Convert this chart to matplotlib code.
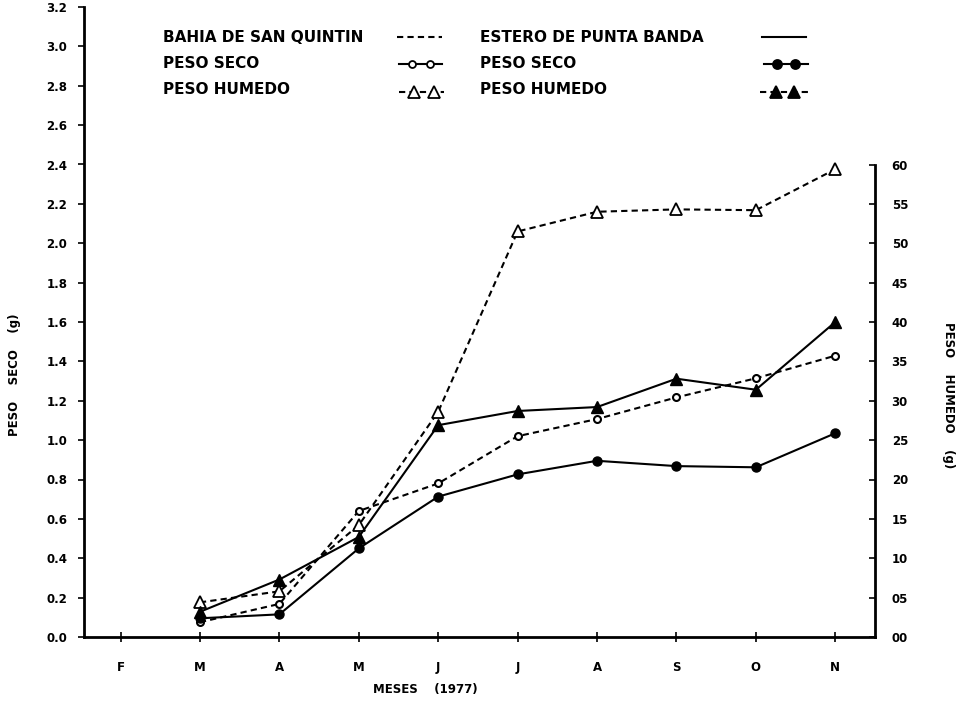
#!/usr/bin/env python3
"""
Peso seco / peso humedo por mes (1977): Bahia de San Quintin vs Estero de Punta Banda.
"""
import matplotlib
matplotlib.use("Agg")
import matplotlib.pyplot as plt
from matplotlib.lines import Line2D
import numpy as np

MONTHS = ["F", "M", "A", "M", "J", "J", "A", "S", "O", "N"]
DATA_IDX = [1, 2, 3, 4, 5, 6, 7, 8, 9]  # M..N

# left axis, dry weight (g)
bahia_seco = [0.075, 0.168, 0.64, 0.78, 1.02, 1.107, 1.217, 1.314, 1.429]
estero_seco = [0.095, 0.115, 0.45, 0.713, 0.826, 0.895, 0.868, 0.862, 1.035]
# right axis, wet weight (g)
bahia_humedo = [4.4, 5.8, 14.2, 28.6, 51.5, 54.0, 54.3, 54.2, 59.4]
estero_humedo = [3.2, 7.3, 12.7, 26.9, 28.7, 29.2, 32.8, 31.4, 40.0]

LEFT_TICKS = np.arange(0, 3.21, 0.2)
RIGHT_TICKS = np.arange(0, 61, 5)

plt.rcParams["font.family"] = ["DejaVu Sans"]
plt.rcParams["font.weight"] = "bold"

DASH = (0, (3, 2))
LW = 1.5

fig = plt.figure(figsize=(9.6, 7.02), dpi=100)
ax = fig.add_axes([84 / 960, 65 / 702, (875 - 84) / 960, (637 - 7) / 702])
ax2 = ax.twinx()

ax.set_xlim(-0.46, 9.5)
ax.set_ylim(0, 3.2)
ax2.set_ylim(0, 80)

# dry weight on the left scale
ax.plot(DATA_IDX, bahia_seco, color="black", lw=LW, ls=DASH, marker="o",
        ms=5, mfc="white", mec="black", mew=1.5)
ax.plot(DATA_IDX, estero_seco, color="black", lw=LW, ls="-", marker="o",
        ms=6.5, mfc="black", mec="black")
# wet weight on the right scale
ax2.plot(DATA_IDX, bahia_humedo, color="black", lw=LW, ls=DASH, marker="^",
         ms=8, mfc="white", mec="black", mew=1.3)
ax2.plot(DATA_IDX, estero_humedo, color="black", lw=LW, ls="-", marker="^",
         ms=8, mfc="black", mec="black")

# spines
for a in (ax, ax2):
    a.spines["top"].set_visible(False)
ax.spines["right"].set_visible(False)
ax.spines["left"].set_linewidth(2)
ax.spines["bottom"].set_linewidth(2)
ax2.spines["left"].set_visible(False)
ax2.spines["bottom"].set_visible(False)
ax2.spines["right"].set_linewidth(2)
ax2.spines["right"].set_bounds(0, 60)

# ticks
ax.set_xticks(range(len(MONTHS)))
ax.set_xticklabels(MONTHS)
ax.tick_params(axis="x", direction="inout", length=7, width=1.2, pad=14, labelsize=8.5)
ax.set_yticks(LEFT_TICKS)
ax.set_yticklabels([f"{v:.1f}" for v in LEFT_TICKS])
ax.tick_params(axis="y", direction="out", length=4, width=1.2, pad=8, labelsize=8.5)
ax2.set_yticks(RIGHT_TICKS)
ax2.set_yticklabels([f"{int(v):02d}" for v in RIGHT_TICKS])
ax2.tick_params(axis="y", direction="in", length=4, width=1.2, pad=12, labelsize=8.5)

# axis labels
fig.text(15 / 960, 1 - 375 / 702, "PESO    SECO    (g)", rotation=90, ha="center",
         va="center", fontsize=8.5, fontweight="bold")
fig.text(948 / 960, 1 - 395 / 702, "PESO    HUMEDO    (g)", rotation=-90, ha="center",
         va="center", fontsize=8.5, fontweight="bold")
fig.text(425 / 960, 1 - 690 / 702, "MESES    (1977)", ha="center", va="center",
         fontsize=8.5, fontweight="bold")

# legend, drawn by hand in two columns
rows = [37, 64, 90]
texts_l = ["BAHIA DE SAN QUINTIN", "PESO SECO", "PESO HUMEDO"]
texts_r = ["ESTERO DE PUNTA BANDA", "PESO SECO", "PESO HUMEDO"]
for y, tl, tr in zip(rows, texts_l, texts_r):
    fig.text(163 / 960, 1 - y / 702, tl, ha="left", va="center", fontsize=11, fontweight="bold")
    fig.text(480 / 960, 1 - y / 702, tr, ha="left", va="center", fontsize=11, fontweight="bold")


def sample(x0, x1, y, ls, marker=None, mfc=None, ms=6, mxs=()):
    fy = 1 - y / 702
    fig.add_artist(Line2D([x0 / 960, x1 / 960], [fy, fy], color="black", lw=LW, ls=ls))
    if marker:
        fig.add_artist(Line2D([mx / 960 for mx in mxs], [fy] * len(mxs), ls="none",
                              marker=marker, ms=ms, mfc=mfc, mec="black", mew=1.3))


sample(397, 442, 37, DASH)
sample(762, 806, 37, "-")
sample(399, 442, 64, "-", "o", "white", 5, (412, 430))
sample(764, 808, 64, "-", "o", "black", 6.5, (777, 795))
sample(399, 444, 92, DASH, "^", "white", 8, (414, 434))
sample(760, 808, 92, DASH, "^", "black", 8, (776, 794))

fig.savefig("out.png", dpi=100)
